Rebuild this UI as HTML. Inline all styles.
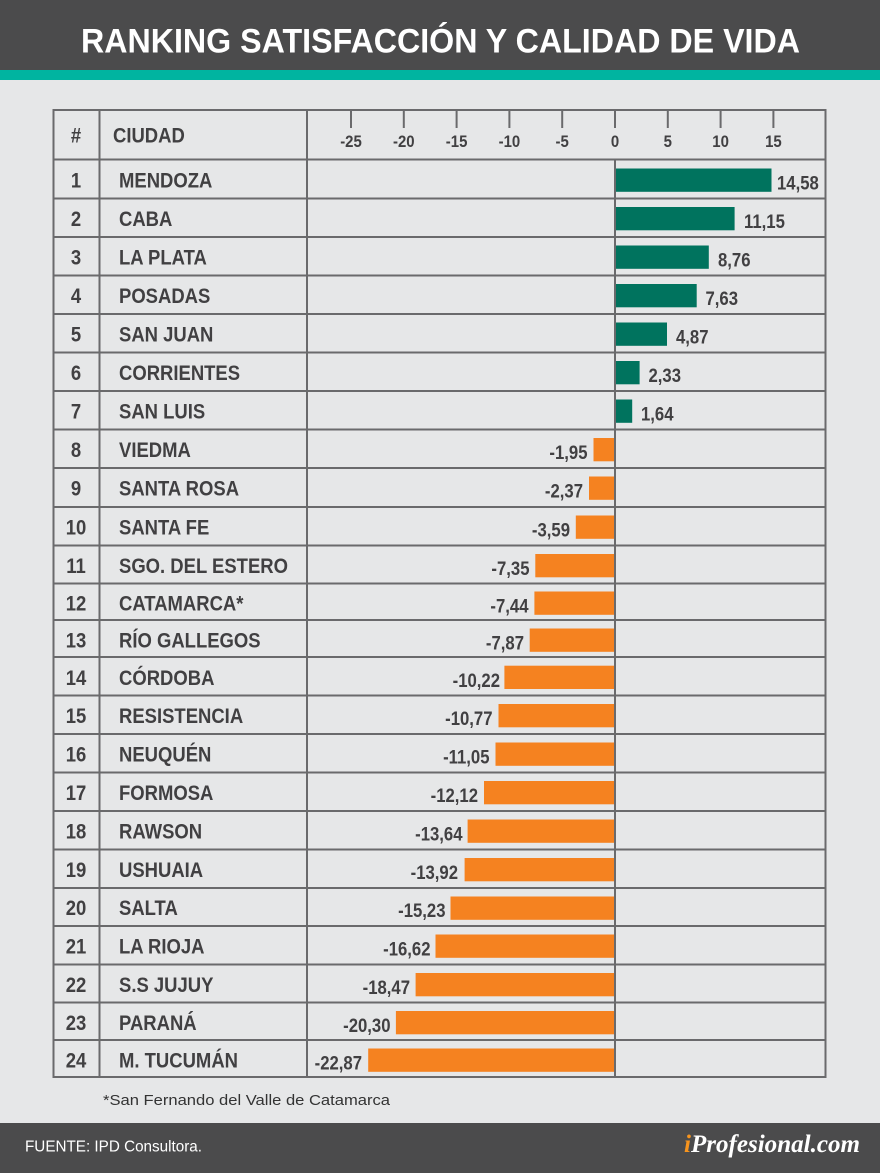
<!DOCTYPE html>
<html>
<head>
<meta charset="utf-8">
<style>
html,body{margin:0;padding:0;background:#e6e7e8;}
svg{display:block;}
.t{font-family:"Liberation Sans",sans-serif;font-weight:bold;fill:#414042;}
</style>
</head>
<body>
<svg width="880" height="1173" viewBox="0 0 880 1173" xmlns="http://www.w3.org/2000/svg">
<rect x="0" y="0" width="880" height="1173" fill="#e6e7e8"/>
<!-- header -->
<rect x="0" y="0" width="880" height="70" fill="#4b4b4c"/>
<rect x="0" y="70" width="880" height="10" fill="#00b4a0"/>
<text x="81" y="52.7" font-family="Liberation Sans, sans-serif" font-weight="bold" font-size="34" fill="#ffffff" textLength="719" lengthAdjust="spacingAndGlyphs">RANKING SATISFACCIÓN Y CALIDAD DE VIDA</text>

<!-- bars -->
<g fill="#00735e">
<rect x="614.5" y="168.5" width="157" height="23.3"/>
<rect x="614.5" y="207" width="120.1" height="23.3"/>
<rect x="614.5" y="245.5" width="94.3" height="23.3"/>
<rect x="614.5" y="284" width="82.2" height="23.3"/>
<rect x="614.5" y="322.5" width="52.5" height="23.3"/>
<rect x="614.5" y="361" width="25.1" height="23.3"/>
<rect x="614.5" y="399.5" width="17.7" height="23.3"/>
</g>
<g fill="#f58220">
<rect x="593.5" y="438" width="21" height="23.3"/>
<rect x="589" y="476.5" width="25.5" height="23.3"/>
<rect x="575.8" y="515.5" width="38.7" height="23.3"/>
<rect x="535.3" y="554" width="79.2" height="23.3"/>
<rect x="534.4" y="591.5" width="80.1" height="23.3"/>
<rect x="529.7" y="628.5" width="84.8" height="23.3"/>
<rect x="504.4" y="665.7" width="110.1" height="23.3"/>
<rect x="498.5" y="704" width="116" height="23.3"/>
<rect x="495.5" y="742.5" width="119" height="23.3"/>
<rect x="484" y="781" width="130.5" height="23.3"/>
<rect x="467.6" y="819.5" width="146.9" height="23.3"/>
<rect x="464.6" y="858" width="149.9" height="23.3"/>
<rect x="450.5" y="896.5" width="164" height="23.3"/>
<rect x="435.5" y="934.5" width="179" height="23.3"/>
<rect x="415.6" y="973" width="198.9" height="23.3"/>
<rect x="395.9" y="1011" width="218.6" height="23.3"/>
<rect x="368.2" y="1048.5" width="246.3" height="23.3"/>
</g>

<!-- grid lines -->
<g stroke="#6a6a6c" stroke-width="2" fill="none">
<line x1="53" y1="110" x2="826" y2="110"/>
<line x1="53" y1="159.5" x2="826" y2="159.5"/>
<line x1="53" y1="198.5" x2="826" y2="198.5"/>
<line x1="53" y1="237" x2="826" y2="237"/>
<line x1="53" y1="275.5" x2="826" y2="275.5"/>
<line x1="53" y1="314" x2="826" y2="314"/>
<line x1="53" y1="352.5" x2="826" y2="352.5"/>
<line x1="53" y1="391" x2="826" y2="391"/>
<line x1="53" y1="429.5" x2="826" y2="429.5"/>
<line x1="53" y1="468" x2="826" y2="468"/>
<line x1="53" y1="507" x2="826" y2="507"/>
<line x1="53" y1="545.5" x2="826" y2="545.5"/>
<line x1="53" y1="583.5" x2="826" y2="583.5"/>
<line x1="53" y1="620" x2="826" y2="620"/>
<line x1="53" y1="657" x2="826" y2="657"/>
<line x1="53" y1="695.5" x2="826" y2="695.5"/>
<line x1="53" y1="734" x2="826" y2="734"/>
<line x1="53" y1="772.5" x2="826" y2="772.5"/>
<line x1="53" y1="811" x2="826" y2="811"/>
<line x1="53" y1="849.5" x2="826" y2="849.5"/>
<line x1="53" y1="888" x2="826" y2="888"/>
<line x1="53" y1="926" x2="826" y2="926"/>
<line x1="53" y1="964.5" x2="826" y2="964.5"/>
<line x1="53" y1="1002.5" x2="826" y2="1002.5"/>
<line x1="53" y1="1040" x2="826" y2="1040"/>
<line x1="53" y1="1077" x2="826" y2="1077"/>
<line x1="53.5" y1="109" x2="53.5" y2="1078"/>
<line x1="99.5" y1="109" x2="99.5" y2="1078"/>
<line x1="307" y1="109" x2="307" y2="1078"/>
<line x1="825.5" y1="109" x2="825.5" y2="1078"/>
<line x1="615" y1="159" x2="615" y2="1078"/>
<line x1="351" y1="110" x2="351" y2="128"/>
<line x1="403.8" y1="110" x2="403.8" y2="128"/>
<line x1="456.6" y1="110" x2="456.6" y2="128"/>
<line x1="509.4" y1="110" x2="509.4" y2="128"/>
<line x1="562.2" y1="110" x2="562.2" y2="128"/>
<line x1="615" y1="110" x2="615" y2="128"/>
<line x1="667.8" y1="110" x2="667.8" y2="128"/>
<line x1="720.6" y1="110" x2="720.6" y2="128"/>
<line x1="773.4" y1="110" x2="773.4" y2="128"/>
</g>

<!-- header row text -->
<g class="t" font-size="21">
<text transform="translate(76,142.5) scale(0.88,1)" text-anchor="middle">#</text>
<text transform="translate(113,142.5) scale(0.88,1)">CIUDAD</text>
</g>
<g class="t" font-size="17" text-anchor="middle">
<text transform="translate(351,147) scale(0.88,1)">-25</text>
<text transform="translate(403.8,147) scale(0.88,1)">-20</text>
<text transform="translate(456.6,147) scale(0.88,1)">-15</text>
<text transform="translate(509.4,147) scale(0.88,1)">-10</text>
<text transform="translate(562.2,147) scale(0.88,1)">-5</text>
<text transform="translate(615,147) scale(0.88,1)">0</text>
<text transform="translate(667.8,147) scale(0.88,1)">5</text>
<text transform="translate(720.6,147) scale(0.88,1)">10</text>
<text transform="translate(773.4,147) scale(0.88,1)">15</text>
</g>

<!-- rank numbers -->
<g class="t" font-size="21" text-anchor="middle">
<text transform="translate(76,187.5) scale(0.88,1)">1</text>
<text transform="translate(76,226) scale(0.88,1)">2</text>
<text transform="translate(76,264.5) scale(0.88,1)">3</text>
<text transform="translate(76,303) scale(0.88,1)">4</text>
<text transform="translate(76,341.5) scale(0.88,1)">5</text>
<text transform="translate(76,380) scale(0.88,1)">6</text>
<text transform="translate(76,418.5) scale(0.88,1)">7</text>
<text transform="translate(76,457) scale(0.88,1)">8</text>
<text transform="translate(76,495.5) scale(0.88,1)">9</text>
<text transform="translate(76,534.5) scale(0.88,1)">10</text>
<text transform="translate(76,573) scale(0.88,1)">11</text>
<text transform="translate(76,610.5) scale(0.88,1)">12</text>
<text transform="translate(76,647.5) scale(0.88,1)">13</text>
<text transform="translate(76,685) scale(0.88,1)">14</text>
<text transform="translate(76,723) scale(0.88,1)">15</text>
<text transform="translate(76,761.5) scale(0.88,1)">16</text>
<text transform="translate(76,800) scale(0.88,1)">17</text>
<text transform="translate(76,838.5) scale(0.88,1)">18</text>
<text transform="translate(76,877) scale(0.88,1)">19</text>
<text transform="translate(76,915) scale(0.88,1)">20</text>
<text transform="translate(76,953.5) scale(0.88,1)">21</text>
<text transform="translate(76,992) scale(0.88,1)">22</text>
<text transform="translate(76,1030) scale(0.88,1)">23</text>
<text transform="translate(76,1067.5) scale(0.88,1)">24</text>
</g>

<!-- city names -->
<g class="t" font-size="21">
<text transform="translate(119,187.5) scale(0.88,1)">MENDOZA</text>
<text transform="translate(119,226) scale(0.88,1)">CABA</text>
<text transform="translate(119,264.5) scale(0.88,1)">LA PLATA</text>
<text transform="translate(119,303) scale(0.88,1)">POSADAS</text>
<text transform="translate(119,341.5) scale(0.88,1)">SAN JUAN</text>
<text transform="translate(119,380) scale(0.88,1)">CORRIENTES</text>
<text transform="translate(119,418.5) scale(0.88,1)">SAN LUIS</text>
<text transform="translate(119,457) scale(0.88,1)">VIEDMA</text>
<text transform="translate(119,495.5) scale(0.88,1)">SANTA ROSA</text>
<text transform="translate(119,534.5) scale(0.88,1)">SANTA FE</text>
<text transform="translate(119,573) scale(0.88,1)">SGO. DEL ESTERO</text>
<text transform="translate(119,610.5) scale(0.88,1)">CATAMARCA*</text>
<text transform="translate(119,647.5) scale(0.88,1)">RÍO GALLEGOS</text>
<text transform="translate(119,685) scale(0.88,1)">CÓRDOBA</text>
<text transform="translate(119,723) scale(0.88,1)">RESISTENCIA</text>
<text transform="translate(119,761.5) scale(0.88,1)">NEUQUÉN</text>
<text transform="translate(119,800) scale(0.88,1)">FORMOSA</text>
<text transform="translate(119,838.5) scale(0.88,1)">RAWSON</text>
<text transform="translate(119,877) scale(0.88,1)">USHUAIA</text>
<text transform="translate(119,915) scale(0.88,1)">SALTA</text>
<text transform="translate(119,953.5) scale(0.88,1)">LA RIOJA</text>
<text transform="translate(119,992) scale(0.88,1)">S.S JUJUY</text>
<text transform="translate(119,1030) scale(0.88,1)">PARANÁ</text>
<text transform="translate(119,1067.5) scale(0.88,1)">M. TUCUMÁN</text>
</g>

<!-- value labels positive -->
<g class="t" font-size="19">
<text transform="translate(777,189.5) scale(0.88,1)">14,58</text>
<text transform="translate(744,228) scale(0.88,1)">11,15</text>
<text transform="translate(718,266.5) scale(0.88,1)">8,76</text>
<text transform="translate(705.5,305) scale(0.88,1)">7,63</text>
<text transform="translate(676,343.5) scale(0.88,1)">4,87</text>
<text transform="translate(648.5,382) scale(0.88,1)">2,33</text>
<text transform="translate(641,420.5) scale(0.88,1)">1,64</text>
</g>
<!-- value labels negative -->
<g class="t" font-size="19" text-anchor="end">
<text transform="translate(587.5,459) scale(0.88,1)">-1,95</text>
<text transform="translate(583,497.5) scale(0.88,1)">-2,37</text>
<text transform="translate(570,536.5) scale(0.88,1)">-3,59</text>
<text transform="translate(529.5,575) scale(0.88,1)">-7,35</text>
<text transform="translate(528.5,612.5) scale(0.88,1)">-7,44</text>
<text transform="translate(524,649.5) scale(0.88,1)">-7,87</text>
<text transform="translate(500,687) scale(0.88,1)">-10,22</text>
<text transform="translate(492.5,725) scale(0.88,1)">-10,77</text>
<text transform="translate(489.5,763.5) scale(0.88,1)">-11,05</text>
<text transform="translate(478,802) scale(0.88,1)">-12,12</text>
<text transform="translate(462.5,840.5) scale(0.88,1)">-13,64</text>
<text transform="translate(458,879) scale(0.88,1)">-13,92</text>
<text transform="translate(445.5,917) scale(0.88,1)">-15,23</text>
<text transform="translate(430.5,955.5) scale(0.88,1)">-16,62</text>
<text transform="translate(410,994) scale(0.88,1)">-18,47</text>
<text transform="translate(390.5,1032) scale(0.88,1)">-20,30</text>
<text transform="translate(362,1069.5) scale(0.88,1)">-22,87</text>
</g>

<!-- footnote -->
<text x="103" y="1105" font-family="Liberation Sans, sans-serif" font-size="15" fill="#333333" textLength="287" lengthAdjust="spacingAndGlyphs">*San Fernando del Valle de Catamarca</text>

<!-- footer -->
<rect x="0" y="1123" width="880" height="50" fill="#4b4b4c"/>
<text x="25" y="1151.5" font-family="Liberation Sans, sans-serif" font-size="16" fill="#ffffff" textLength="177" lengthAdjust="spacingAndGlyphs">FUENTE: IPD Consultora.</text>
<text x="684" y="1152" font-family="Liberation Serif, serif" font-style="italic" font-weight="bold" font-size="25" fill="#ffffff" textLength="176" lengthAdjust="spacingAndGlyphs"><tspan fill="#f7941d">i</tspan>Profesional.com</text>
</svg>
</body>
</html>
